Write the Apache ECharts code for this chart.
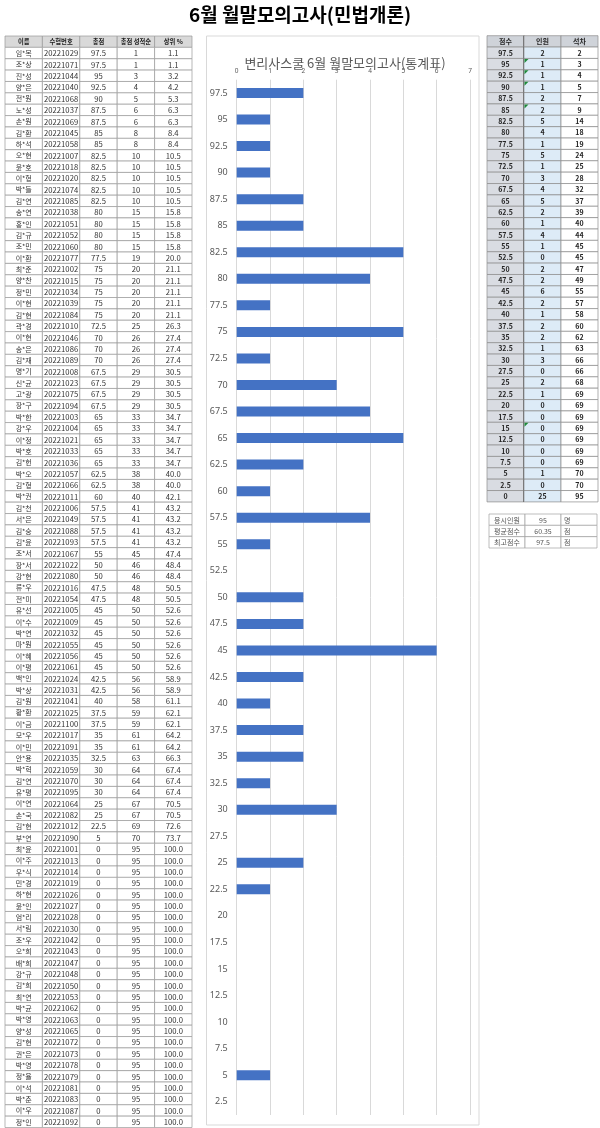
<!DOCTYPE html>
<html><head><meta charset="utf-8">
<script src="https://cdn.jsdelivr.net/npm/echarts@6/dist/echarts.min.js"></script>
<style>html,body{margin:0;padding:0;background:#fff}#main{width:600px;height:1128px}</style>
</head><body><div id="main"></div>
<script>
const pageTitle = '6월 월말모의고사(민법개론)';
const chartTitle = '변리사스쿨 6월 월말모의고사(통계표)';
const rosterHeaders = ['이름', '수험번호', '총점', '총점 성적순', '상위 %'];
const names = ['임*목','조*상','진*성','양*은','전*원','노*성','손*원','김*환','하*석','오*현',
'윤*호','이*형','박*들','김*연','송*연','홍*인','김*규','조*민','이*환','최*준',
'양*찬','정*민','이*현','김*현','곽*경','이*현','송*은','김*재','명*기','신*균',
'고*광','장*구','박*한','강*우','이*정','박*호','김*헌','박*오','김*형','박*권',
'김*천','서*은','김*숭','김*윤','조*서','장*서','강*현','류*우','전*미','유*선',
'이*수','박*연','마*원','이*혜','이*평','백*인','박*상','김*원','황*환','이*금',
'모*우','이*민','안*용','박*혁','김*연','유*평','이*연','손*국','김*현','부*연',
'최*윤','이*주','우*식','민*경','하*현','윤*인','엄*리','서*림','조*우','오*희',
'배*희','강*규','김*희','최*연','박*균','박*영','양*성','김*현','권*은','박*영',
'정*율','이*석','박*춘','이*우','정*인'];
const examIds = [20221029,20221071,20221044,20221040,20221068,20221037,20221069,20221045,20221058,20221007,
20221018,20221020,20221074,20221085,20221038,20221051,20221052,20221060,20221077,20221002,
20221015,20221034,20221039,20221084,20221010,20221046,20221086,20221089,20221008,20221023,
20221075,20221094,20221003,20221004,20221021,20221033,20221036,20221057,20221066,20221011,
20221006,20221049,20221088,20221093,20221067,20221022,20221080,20221016,20221054,20221005,
20221009,20221032,20221055,20221056,20221061,20221024,20221031,20221041,20221025,20221100,
20221017,20221091,20221035,20221059,20221070,20221095,20221064,20221082,20221012,20221090,
20221001,20221013,20221014,20221019,20221026,20221027,20221028,20221030,20221042,20221043,
20221047,20221048,20221050,20221053,20221062,20221063,20221065,20221072,20221073,20221078,
20221079,20221081,20221083,20221087,20221092];
const totals = [97.5,97.5,95,92.5,90,87.5,87.5,85,85,82.5,
82.5,82.5,82.5,82.5,80,80,80,80,77.5,75,
75,75,75,75,72.5,70,70,70,67.5,67.5,
67.5,67.5,65,65,65,65,65,62.5,62.5,60,
57.5,57.5,57.5,57.5,55,50,50,47.5,47.5,45,
45,45,45,45,45,42.5,42.5,40,37.5,37.5,
35,35,32.5,30,30,30,25,25,22.5,5,
0,0,0,0,0,0,0,0,0,0,
0,0,0,0,0,0,0,0,0,0,
0,0,0,0,0];
const ranks = [1,1,3,4,5,6,6,8,8,10,
10,10,10,10,15,15,15,15,19,20,
20,20,20,20,25,26,26,26,29,29,
29,29,33,33,33,33,33,38,38,40,
41,41,41,41,45,46,46,48,48,50,
50,50,50,50,50,56,56,58,59,59,
61,61,63,64,64,64,67,67,69,70,
95,95,95,95,95,95,95,95,95,95,
95,95,95,95,95,95,95,95,95,95,
95,95,95,95,95];
const topPercents = ['1.1','1.1','3.2','4.2','5.3','6.3','6.3','8.4','8.4','10.5',
'10.5','10.5','10.5','10.5','15.8','15.8','15.8','15.8','20.0','21.1',
'21.1','21.1','21.1','21.1','26.3','27.4','27.4','27.4','30.5','30.5',
'30.5','30.5','34.7','34.7','34.7','34.7','34.7','40.0','40.0','42.1',
'43.2','43.2','43.2','43.2','47.4','48.4','48.4','50.5','50.5','52.6',
'52.6','52.6','52.6','52.6','52.6','58.9','58.9','61.1','62.1','62.1',
'64.2','64.2','66.3','67.4','67.4','67.4','70.5','70.5','72.6','73.7',
'100.0','100.0','100.0','100.0','100.0','100.0','100.0','100.0','100.0','100.0',
'100.0','100.0','100.0','100.0','100.0','100.0','100.0','100.0','100.0','100.0',
'100.0','100.0','100.0','100.0','100.0'];

const distHeaders = ['점수', '인원', '석차'];
const distScores = ['97.5','95','92.5','90','87.5','85','82.5','80','77.5','75',
'72.5','70','67.5','65','62.5','60','57.5','55','52.5','50',
'47.5','45','42.5','40','37.5','35','32.5','30','27.5','25',
'22.5','20','17.5','15','12.5','10','7.5','5','2.5','0'];
const distCounts = [2,1,1,1,2,2,5,4,1,5,
1,3,4,5,2,1,4,1,0,2,
2,6,2,1,2,2,1,3,0,2,
1,0,0,0,0,0,0,1,0,25];
const distCumulative = [2,3,4,5,7,9,14,18,19,24,
25,28,32,37,39,40,44,45,45,47,
49,55,57,58,60,62,63,66,66,68,
69,69,69,69,69,69,69,70,70,95];
const flaggedScores = ['95','92.5','90','85','15'];

const summaryLabels = ['응시인원', '평균점수', '최고점수'];
const summaryValues = ['95', '60.35', '97.5'];
const summaryUnits = ['명', '점', '점'];

const chartScores = distScores.slice(0, 39);
const chartCounts = distCounts.slice(0, 39);
const xTickMax = 7;

const KR = '"Noto Sans CJK KR", "Noto Sans", sans-serif';

// ---------- build table cells ----------
const rosterCells = [];
rosterHeaders.forEach((h, c) => rosterCells.push({c, r: 0, text: h, head: true}));
names.forEach((n, i) => {
  const row = [n, String(examIds[i]), String(totals[i]), String(ranks[i]), topPercents[i]];
  row.forEach((t, c) => rosterCells.push({c, r: i + 1, text: t}));
});
const distCells = [];
distHeaders.forEach((h, c) => distCells.push({c, r: 0, text: h, head: true}));
distScores.forEach((s, i) => {
  [s, String(distCounts[i]), String(distCumulative[i])].forEach((t, c) =>
    distCells.push({c, r: i + 1, text: t, flag: c === 1 && flaggedScores.includes(s)}));
});
const sumCells = [];
summaryLabels.forEach((l, i) => {
  [l, summaryValues[i], summaryUnits[i]].forEach((t, c) => sumCells.push({c, r: i, text: t}));
});

function tableSeries(gridIdx, cells, styleFn) {
  return {
    type: 'custom', xAxisIndex: gridIdx, yAxisIndex: gridIdx, silent: true,
    data: cells.map(d => [d.c, d.r]),
    renderItem: function (params, api) {
      const cell = cells[params.dataIndex];
      const p = api.coord([api.value(0), api.value(1)]);
      const s = api.size([1, 1]);
      const x0 = p[0] - s[0] / 2, y0 = p[1] - s[1] / 2;
      const st = styleFn(cell);
      const children = [{
        type: 'rect', shape: {x: x0, y: y0, width: s[0], height: s[1]},
        style: {fill: st.fill, stroke: st.stroke, lineWidth: st.lw}
      }];
      if (st.rightLine) {
        children.push({type: 'line', shape: {x1: x0 + s[0], y1: y0, x2: x0 + s[0], y2: y0 + s[1]},
          style: {stroke: st.rightLine, lineWidth: 1.4}});
      }
      if (cell.flag) {
        children.push({type: 'polygon', shape: {points: [[x0 + 0.5, y0 + 0.5], [x0 + 4.5, y0 + 0.5], [x0 + 0.5, y0 + 4.5]]},
          style: {fill: '#1f8a3b'}});
      }
      const left = st.align === 'left';
      children.push({
        type: 'text', x: left ? x0 + 3 : p[0], y: p[1] + 0.3,
        style: {text: cell.text, fill: st.color, font: st.font,
          align: left ? 'left' : 'center', textAlign: left ? 'left' : 'center',
          verticalAlign: 'middle', textVerticalAlign: 'middle'}
      });
      return {type: 'group', children};
    }
  };
}

function catAxis(gridIndex, n, inverse) {
  return {type: 'category', gridIndex, data: Array.from({length: n}, (_, i) => i), show: false, inverse: !!inverse};
}

const option = {
  backgroundColor: '#ffffff',
  animation: false,
  grid: [
    {left: 5, top: 36, width: 187, height: 1091.5, outerBoundsMode: 'none', containLabel: false},
    {left: 487, top: 35.7, width: 111, height: 466.2, outerBoundsMode: 'none', containLabel: false},
    {left: 489, top: 514, width: 108, height: 34, outerBoundsMode: 'none', containLabel: false},
    {left: 236.7, top: 79.7, width: 233.3, height: 1035.3, outerBoundsMode: 'none', containLabel: false}
  ],
  xAxis: [
    catAxis(0, 5), catAxis(1, 3), catAxis(2, 3),
    {type: 'value', gridIndex: 3, min: 0, max: xTickMax, interval: 1, position: 'top',
      axisLine: {show: false}, axisTick: {show: false},
      axisLabel: {fontSize: 6.5, color: '#595959', margin: 5, fontFamily: '"Noto Sans", sans-serif'},
      splitLine: {show: true, lineStyle: {color: '#d9d9d9', width: 1}}}
  ],
  yAxis: [
    catAxis(0, 96, true), catAxis(1, 41, true), catAxis(2, 3, true),
    {type: 'category', gridIndex: 3, data: chartScores, inverse: true,
      axisLine: {show: false}, axisTick: {show: false},
      axisLabel: {fontSize: 9, color: '#595959', margin: 9, fontFamily: '"Noto Sans", sans-serif'}}
  ],
  graphic: [
    {type: 'text', x: 300, y: 15, z: 10,
      style: {text: pageTitle, font: 'bold 19px ' + KR, fill: '#000',
        align: 'center', textAlign: 'center', verticalAlign: 'middle', textVerticalAlign: 'middle'}},
    {type: 'rect', z: 0, shape: {x: 206.5, y: 36, width: 272.5, height: 1089},
      style: {fill: 'none', stroke: '#d9d9d9', lineWidth: 1}},
    {type: 'text', x: 345, y: 63, z: 10,
      style: {text: chartTitle, font: '13px ' + KR, fill: '#595959',
        align: 'center', textAlign: 'center', verticalAlign: 'middle', textVerticalAlign: 'middle'}}
  ],
  series: [
    tableSeries(0, rosterCells, cell => ({
      fill: cell.head ? '#d9d9d9' : '#ffffff', stroke: '#9a9a9a', lw: 0.7,
      color: cell.head ? '#222' : '#333333',
      font: (cell.head ? 'bold 6.3px ' : (cell.c === 0 ? '7px ' : '7.7px ')) + KR
    })),
    tableSeries(1, distCells, cell => ({
      fill: cell.head ? '#cfd3d9' : (cell.c === 0 ? '#d9dce2' : (cell.c === 1 ? '#ddebf7' : '#ffffff')),
      stroke: '#8c8c8c', lw: 0.7, color: '#262626',
      rightLine: cell.c === 0 ? '#4d4d4d' : null,
      font: 'bold 7px ' + KR
    })),
    tableSeries(2, sumCells, cell => ({
      fill: '#ffffff', stroke: '#a0a0a0', lw: 0.7, color: '#555555',
      align: cell.c === 2 ? 'left' : 'center',
      font: '7px ' + KR
    })),
    {type: 'bar', xAxisIndex: 3, yAxisIndex: 3, data: chartCounts, barWidth: 10,
      itemStyle: {color: '#4472c4'}, silent: true}
  ]
};

const chart = echarts.init(document.getElementById('main'), null, {renderer: 'canvas'});
chart.setOption(option);
</script>
</body></html>
